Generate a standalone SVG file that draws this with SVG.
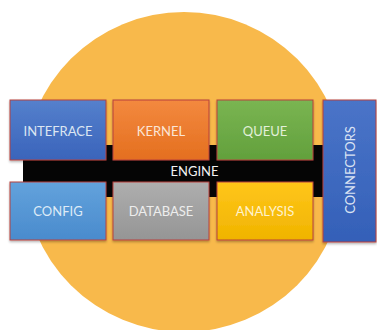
<svg xmlns="http://www.w3.org/2000/svg" width="377" height="330" viewBox="0 0 377 330">
<defs>
<linearGradient id="gBlue" x1="0" y1="0" x2="0" y2="1"><stop offset="0" stop-color="#5580cc"/><stop offset="1" stop-color="#3a64bb"/></linearGradient>
<linearGradient id="gOrange" x1="0" y1="0" x2="0" y2="1"><stop offset="0" stop-color="#f3893f"/><stop offset="1" stop-color="#e46f1f"/></linearGradient>
<linearGradient id="gGreen" x1="0" y1="0" x2="0" y2="1"><stop offset="0" stop-color="#7ab552"/><stop offset="1" stop-color="#62a03c"/></linearGradient>
<linearGradient id="gLight" x1="0" y1="0" x2="0" y2="1"><stop offset="0" stop-color="#62a2dc"/><stop offset="1" stop-color="#4a8bcd"/></linearGradient>
<linearGradient id="gGray" x1="0" y1="0" x2="0" y2="1"><stop offset="0" stop-color="#aeaeae"/><stop offset="1" stop-color="#959595"/></linearGradient>
<linearGradient id="gGold" x1="0" y1="0" x2="0" y2="1"><stop offset="0" stop-color="#ffc61a"/><stop offset="1" stop-color="#f0b400"/></linearGradient>
<linearGradient id="gConn" x1="0" y1="0" x2="0" y2="1"><stop offset="0" stop-color="#4a74c8"/><stop offset="1" stop-color="#3460b8"/></linearGradient>
<filter id="sh" x="-10%" y="-10%" width="120%" height="130%"><feDropShadow dx="0" dy="1.5" stdDeviation="1.2" flood-color="#000" flood-opacity="0.3"/></filter>
</defs>
<style>
.box{stroke:#b8403c;stroke-width:1;filter:url(#sh)}
.lbl{font-family:Lato,"Open Sans","Liberation Sans",sans-serif;font-size:13px;text-anchor:middle}
</style>
<circle id="background" cx="184" cy="172" r="160" fill="#f8b94b"/>
<g id="engine">
<rect x="23" y="145" width="300" height="52" fill="#050505"/>
<text class="lbl" x="194.5" y="176" fill="#f2f2f2" font-size="12.5">ENGINE</text>
</g>
<g id="connectors-lines"></g>
<g id="interface">
<rect class="box" x="10" y="100" width="96" height="60" fill="url(#gBlue)"/>
<text class="lbl" x="58" y="135.5" fill="#dce6f2">INTEFRACE</text>
</g>
<g id="kernel">
<rect class="box" x="113" y="100" width="96" height="60" fill="url(#gOrange)"/>
<text class="lbl" x="161" y="135.5" fill="#fbe5d6">KERNEL</text>
</g>
<g id="queue">
<rect class="box" x="217" y="100" width="96" height="60" fill="url(#gGreen)"/>
<text class="lbl" x="265" y="135.5" fill="#e2f0d9">QUEUE</text>
</g>
<g id="config">
<rect class="box" x="10" y="182" width="96" height="58" fill="url(#gLight)"/>
<text class="lbl" x="58" y="216" fill="#deebf7">CONFIG</text>
</g>
<g id="database">
<rect class="box" x="113" y="182" width="96" height="58" fill="url(#gGray)"/>
<text class="lbl" x="161" y="216" fill="#ededed">DATABASE</text>
</g>
<g id="analysis">
<rect class="box" x="217" y="182" width="96" height="58" fill="url(#gGold)"/>
<text class="lbl" x="265" y="216" fill="#fff2cc">ANALYSIS</text>
</g>
<g id="connectors">
<rect class="box" x="323" y="100" width="53" height="142" fill="url(#gConn)"/>
<text class="lbl" transform="translate(355,170) rotate(-90)" fill="#dae3f3" font-size="14">CONNECTORS</text>
</g>
</svg>
